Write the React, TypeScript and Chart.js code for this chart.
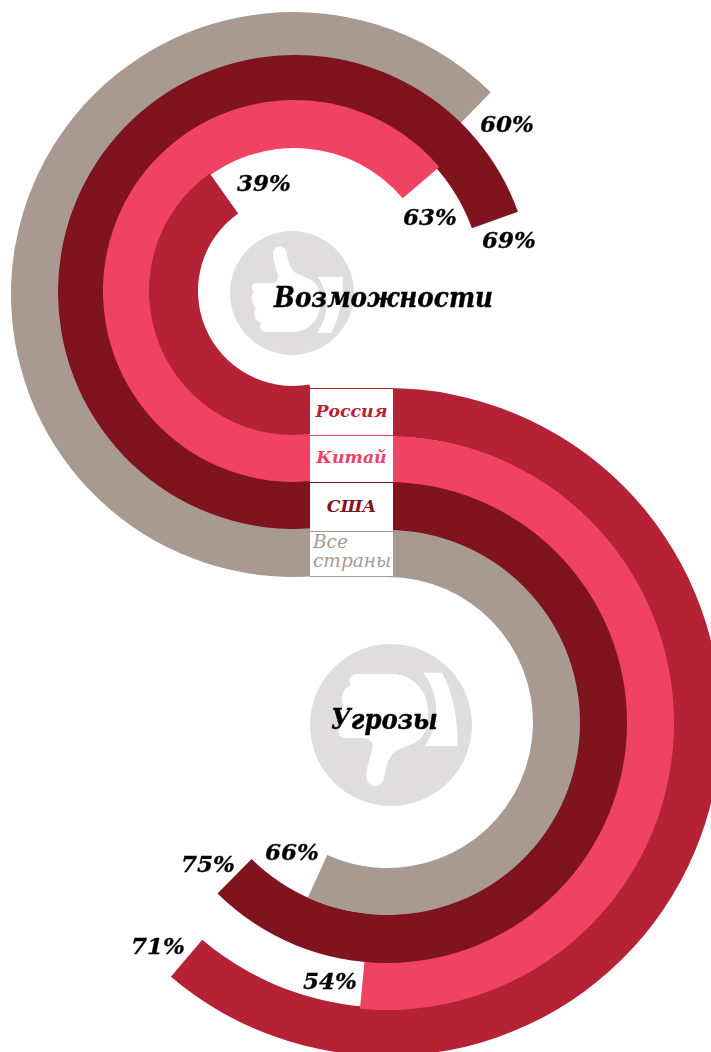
import React, { useEffect, useRef } from "react";
import { Chart, registerables } from "chart.js";

Chart.register(...registerables);

// Printed figures and the share of a full turn each arc really sweeps in the picture
const opportunityGroups = ["Все страны", "США", "Китай", "Россия"];
const opportunityLabels = [60, 69, 63, 39];
const opportunityArcs = [62.3, 69.5, 63.75, 40.2];
const threatGroups = ["Россия", "Китай", "США", "Все страны"];
const threatLabels = [71, 54, 75, 66];
const threatArcs = [61.2, 51.5, 62.4, 56.8];
const legendNames = ["Россия", "Китай", "США", "Все страны"];

const COLORS: Record<string, string> = {
  "Россия": "#B62235",
  "Китай": "#F04263",
  "США": "#7F131E",
  "Все страны": "#A89A90",
};

const SERIF = '"DejaVu Serif", serif';

// Ring geometry: the printed rings are not quite concentric, so each has its own circle.
const opportunityGeometry = [
  { left: 11, top: 12, size: 565, inner: 233 },
  { left: 58, top: 55, size: 474, inner: 188 },
  { left: 103, top: 100, size: 382, inner: 143 },
  { left: 149, top: 147, size: 288, inner: 95 },
];
const threatGeometry = [
  { left: 53, top: 388, size: 668, inner: 285.5 },
  { left: 100, top: 436, size: 574, inner: 238 },
  { left: 146, top: 482, size: 481, inner: 192 },
  { left: 195, top: 530, size: 385, inner: 145.5 },
];

function Ring({ group, arc, rotation, lead, geo }: any) {
  const ref = useRef<HTMLCanvasElement>(null);
  useEffect(() => {
    const leadShare = (lead / 360) * 100;
    const chart = new Chart(ref.current!, {
      type: "doughnut",
      data: {
        labels: [group, "rest"],
        datasets: [
          {
            label: group,
            data: [arc + leadShare, 100 - arc - leadShare],
            backgroundColor: [COLORS[group], "rgba(0,0,0,0)"],
            borderWidth: 0,
          },
        ],
      },
      options: {
        animation: false,
        responsive: false,
        rotation: rotation - lead,
        cutout: geo.inner,
        events: [],
        layout: { padding: 0 },
        plugins: { legend: { display: false }, tooltip: { enabled: false } },
      },
    });
    return () => chart.destroy();
  }, []);
  return (
    <canvas
      ref={ref}
      width={geo.size}
      height={geo.size}
      style={{ position: "absolute", left: geo.left, top: geo.top, width: geo.size, height: geo.size }}
    />
  );
}

function Pct({ x, y, children }: any) {
  return (
    <span
      style={{
        position: "absolute",
        left: x,
        top: y,
        font: `italic bold 23px ${SERIF}`,
        lineHeight: "26px",
        color: "#000",
        whiteSpace: "nowrap",
        WebkitTextStroke: "0.3px #000",
      }}
    >
      {children}
    </span>
  );
}

function Thumb() {
  return (
    <g fill="#fff">
      <path d="M273 256 C272 244 286 243 287 254 C288 262 291 270 296 273 C303 277 310 278 315 283 C322 291 322 311 316 319 C310 328 302 332 292 332 L266 332 C261 332 259 328 261 323 C255 321 252 312 256 308 C251 304 250 295 254 292 C250 288 251 283 258 283 L272 283 C278 282 279 277 277 272 C275 266 274 261 273 256 Z" />
      <path d="M318 277 L343 277 Q343 312 331 333 L317 333 Q336 305 318 277 Z" />
    </g>
  );
}

function Title({ x, y, scale, children }: any) {
  return (
    <span
      style={{
        position: "absolute",
        left: x,
        top: y,
        font: `italic bold 27px ${SERIF}`,
        lineHeight: "36px",
        color: "#000",
        whiteSpace: "nowrap",
        transform: `scaleX(${scale})`,
        transformOrigin: "left center",
        WebkitTextStroke: "0.4px #000",
      }}
    >
      {children}
    </span>
  );
}

export default function App() {
  useEffect(() => {
    document.body.style.margin = "0";
  }, []);
  const boxTop = [388, 435, 482, 531];
  const boxH = [47, 47, 49, 46];
  const boxLine = [45, 43, 47, 19];
  return (
    <div style={{ position: "relative", width: 711, height: 1052, overflow: "hidden", background: "#fff" }}>
      {opportunityGroups.map((g, i) => (
        <Ring key={"o" + g} group={g} arc={opportunityArcs[i]} rotation={180} lead={10} geo={opportunityGeometry[i]} />
      ))}
      {threatGroups.map((g, i) => (
        <Ring key={"t" + g} group={g} arc={threatArcs[i]} rotation={0} lead={0} geo={threatGeometry[i]} />
      ))}

      <svg width={711} height={1052} style={{ position: "absolute", left: 0, top: 0 }}>
        <circle cx={292} cy={293} r={62} fill="#DFDDDE" />
        <Thumb />
        <circle cx={391} cy={725} r={81} fill="#DFDDDE" />
        <g transform="translate(391 725) scale(1.306 -1.306) translate(-292 -293)">
          <Thumb />
        </g>
      </svg>

      {legendNames.map((n, i) => (
        <div
          key={n}
          style={{
            position: "absolute",
            boxSizing: "border-box",
            left: 310,
            top: boxTop[i],
            width: 83,
            height: boxH[i],
            background: "#fff",
            borderTop: `1px solid ${COLORS[n]}`,
            borderBottom: i === 3 ? `1px solid ${COLORS[n]}` : "none",
            color: COLORS[n],
            font: `italic ${i === 3 ? "normal" : "bold"} ${i === 3 ? 18.5 : 17.3}px ${SERIF}`,
            lineHeight: `${boxLine[i]}px`,
            textAlign: i === 3 ? "left" : "center",
            paddingLeft: i === 3 ? 3 : 0,
            whiteSpace: "pre-line",
          }}
        >
          {i === 3 ? "Все\nстраны" : n}
        </div>
      ))}

      <Title x={274} y={280} scale={0.915}>Возможности</Title>
      <Title x={331} y={702} scale={0.9}>Угрозы</Title>

      <Pct x={480} y={111}>{opportunityLabels[0]}%</Pct>
      <Pct x={482} y={227}>{opportunityLabels[1]}%</Pct>
      <Pct x={403} y={204}>{opportunityLabels[2]}%</Pct>
      <Pct x={237} y={170}>{opportunityLabels[3]}%</Pct>
      <Pct x={131} y={933}>{threatLabels[0]}%</Pct>
      <Pct x={303} y={968}>{threatLabels[1]}%</Pct>
      <Pct x={181} y={851}>{threatLabels[2]}%</Pct>
      <Pct x={265} y={839}>{threatLabels[3]}%</Pct>
    </div>
  );
}
